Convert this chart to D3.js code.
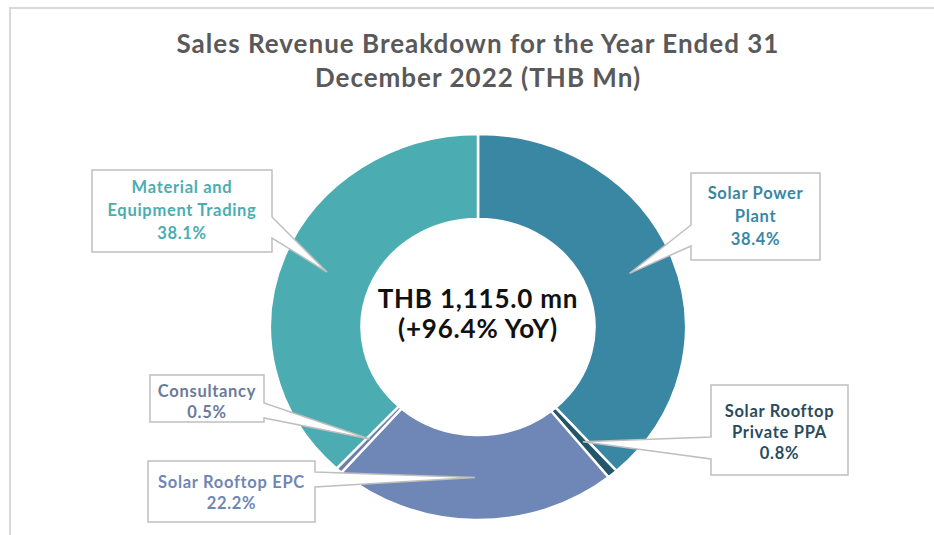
<!DOCTYPE html>
<html lang="en">
<head>
<meta charset="utf-8">
<title>Sales Revenue Breakdown 2022</title>
<style>
  body { margin: 0; background: #fff; }
  text { font-family: 'Lato', 'Open Sans', sans-serif; font-weight: 700; }
</style>
<script src="https://d3js.org/d3.v7.min.js"></script>
</head>
<body>
<svg id="chart" width="934" height="535"></svg>
<script>
// data, clockwise from 12 o'clock
var categories = ["Solar Power Plant", "Solar Rooftop Private PPA", "Solar Rooftop EPC", "Consultancy", "Material and Equipment Trading"];
var shares = [38.4, 0.8, 22.2, 0.5, 38.1];
var labelLines = [["Solar Power", "Plant"], ["Solar Rooftop", "Private PPA"], ["Solar Rooftop EPC"], ["Consultancy"], ["Material and", "Equipment Trading"]];
var colors = ["#3A87A4", "#24566A", "#6F87B6", "#6F80A8", "#4BADB2"];
var textColors = ["#3A87A4", "#2B4B5E", "#6F87B6", "#6B7A9C", "#4BADB2"];
var titleLines = ["Sales Revenue Breakdown for the Year Ended 31", "December 2022 (THB Mn)"];
var centerLines = ["THB 1,115.0 mn", "(+96.4% YoY)"];

// callout boxes: [x0, y0, x1, y1], side the tail leaves from, tail attach y's, first baseline
var boxes = [
  {b: [691, 173, 820, 260], side: "left",  t: [225, 246], y: 199, lh: 23},
  {b: [711, 385, 848, 475], side: "left",  t: [437, 459], y: 417, lh: 21},
  {b: [148, 461, 315, 522], side: "right", t: [472, 487], y: 488, lh: 21},
  {b: [150, 375, 264, 422], side: "right", t: [403, 418], y: 397, lh: 21},
  {b: [92, 170, 272, 252],  side: "right", t: [217, 238], y: 193, lh: 23}
];

var svg = d3.select("#chart");
var cx = 478, cy = 327, R = 208, ry = 193;
var sy = ry / R;

// frame
svg.append("path").attr("d", "M10,535 V8 H934")
  .attr("fill", "none").attr("stroke", "#D9D9D9").attr("stroke-width", 2);

// title
svg.append("g").selectAll("text").data(titleLines).join("text")
  .attr("x", cx).attr("y", function(d, i) { return 53 + i * 34; })
  .attr("text-anchor", "middle").attr("fill", "#595959")
  .style("font-size", "26px").style("letter-spacing", "1px")
  .text(function(d) { return d; });

var pie = d3.pie().sort(null).value(function(d) { return d; })
  .startAngle(0).endAngle(2 * Math.PI);
var arcs = pie(shares);
var arc = d3.arc().innerRadius(R * 0.56).outerRadius(R);
var mid = d3.arc().innerRadius(R * 0.78).outerRadius(R * 0.78);

var ring = svg.append("g").attr("transform", "translate(" + cx + "," + cy + ") scale(1," + sy + ")");
ring.selectAll("path").data(arcs).join("path")
  .attr("d", arc)
  .attr("fill", function(d, i) { return colors[i]; })
  .attr("stroke", "#fff").attr("stroke-width", 2.5);

// center text
svg.append("g").selectAll("text").data(centerLines).join("text")
  .attr("x", cx).attr("y", function(d, i) { return 308 + i * 30; })
  .attr("text-anchor", "middle").attr("fill", "#111")
  .style("font-size", "26px").style("letter-spacing", "0.8px")
  .text(function(d) { return d; });

// callouts
arcs.forEach(function(a, i) {
  var c = mid.centroid(a);
  var tip = [cx + c[0], cy + c[1] * sy];
  var o = boxes[i], b = o.b, p;
  if (o.side === "right") {
    p = "M" + b[0] + "," + b[1] + " H" + b[2] + " V" + o.t[0] + " L" + tip[0] + "," + tip[1] +
        " L" + b[2] + "," + o.t[1] + " V" + b[3] + " H" + b[0] + " Z";
  } else {
    p = "M" + b[2] + "," + b[1] + " H" + b[0] + " V" + o.t[0] + " L" + tip[0] + "," + tip[1] +
        " L" + b[0] + "," + o.t[1] + " V" + b[3] + " H" + b[2] + " Z";
  }
  var g = svg.append("g");
  g.append("path").attr("d", p).attr("fill", "#fff")
    .attr("stroke", "#BFBFBF").attr("stroke-width", 1.5).attr("stroke-linejoin", "miter");
  var lines = labelLines[i].concat([d3.format(".1f")(shares[i]) + "%"]);
  g.selectAll("text").data(lines).join("text")
    .attr("x", (b[0] + b[2]) / 2)
    .attr("y", function(d, k) { return o.y + k * o.lh; })
    .attr("text-anchor", "middle").attr("fill", textColors[i])
    .style("font-size", "16.5px").style("letter-spacing", "0.7px")
    .text(function(d) { return d; });
});
</script>
</body>
</html>
